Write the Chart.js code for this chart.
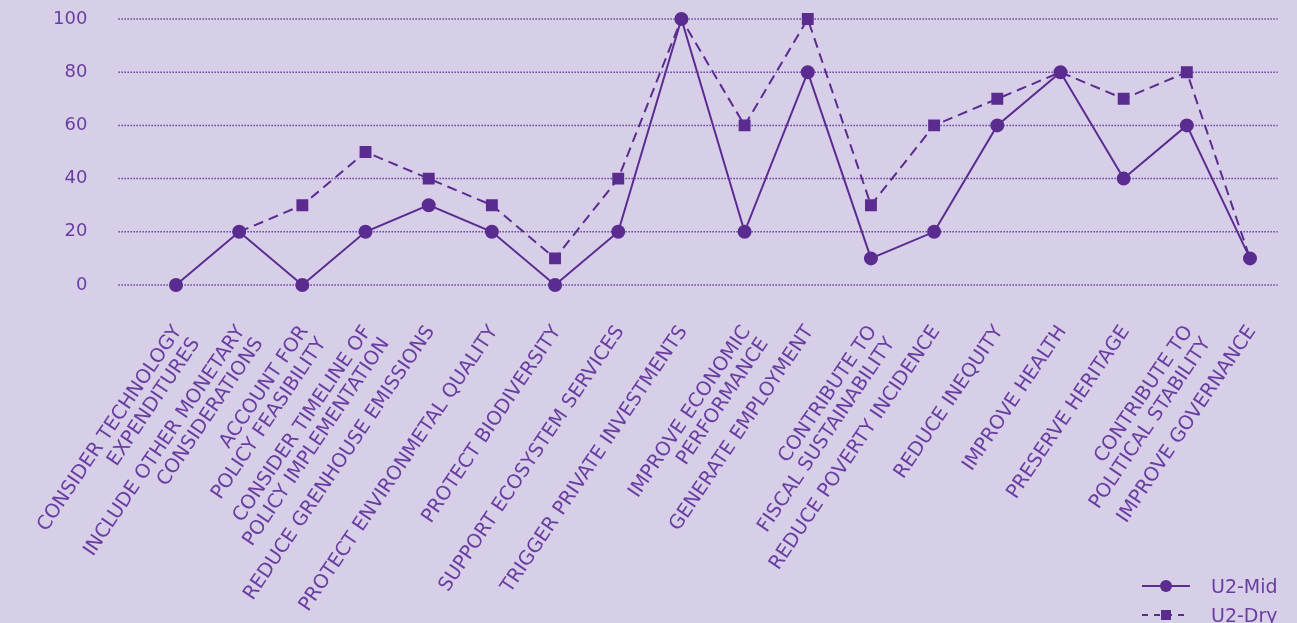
<!DOCTYPE html>
<html>
<head>
<meta charset="utf-8">
<script src="https://cdn.jsdelivr.net/npm/chart.js@4/dist/chart.umd.min.js"></script>
<style>
  html, body { margin: 0; padding: 0; background: #d7cee8; overflow: hidden; }
  #wrap { position: relative; width: 1297px; height: 623px; }
  .lg-text { position: absolute; font: 19px/19px "DejaVu Sans", sans-serif; color: #6a3ea1; white-space: nowrap; }
  .lg-line { position: absolute; height: 2px; background: #5b2c90; }
  .lg-dash { position: absolute; height: 2px;
    background: repeating-linear-gradient(to right, #5b2c90 0 6px, transparent 6px 12px); }
  .lg-dot { position: absolute; width: 12px; height: 12px; border-radius: 50%; background: #5b2c90; }
  .lg-sq { position: absolute; width: 10px; height: 10px; background: #5b2c90; }
</style>
</head>
<body>
<div id="wrap">
  <canvas id="chart"></canvas>
  <div class="lg-line" style="left:1142px; top:585px; width:48px;"></div>
  <div class="lg-dot" style="left:1160px; top:580px;"></div>
  <div class="lg-text" style="left:1211px; top:577px;">U2-Mid</div>
  <div class="lg-dash" style="left:1142px; top:614px; width:48px;"></div>
  <div class="lg-sq" style="left:1161px; top:610px;"></div>
  <div class="lg-text" style="left:1211px; top:606px;">U2-Dry</div>
</div>
<script>
const categories = [
  ['CONSIDER TECHNOLOGY', 'EXPENDITURES'],
  ['INCLUDE OTHER MONETARY', 'CONSIDERATIONS'],
  ['ACCOUNT FOR', 'POLICY FEASIBILITY'],
  ['CONSIDER TIMELINE OF', 'POLICY IMPLEMENTATION'],
  'REDUCE GRENHOUSE EMISSIONS',
  'PROTECT ENVIRONMETAL QUALITY',
  'PROTECT BIODIVERSITY',
  'SUPPORT ECOSYSTEM SERVICES',
  'TRIGGER PRIVATE INVESTMENTS',
  ['IMPROVE ECONOMIC', 'PERFORMANCE'],
  'GENERATE EMPLOYMENT',
  ['CONTRIBUTE TO', 'FISCAL SUSTAINABILITY'],
  'REDUCE POVERTY INCIDENCE',
  'REDUCE INEQUITY',
  'IMPROVE HEALTH',
  'PRESERVE HERITAGE',
  ['CONTRIBUTE TO', 'POLITICAL STABILITY'],
  'IMPROVE GOVERNANCE',
];
const u2Mid = [0, 20, 0, 20, 30, 20, 0, 20, 100, 20, 80, 10, 20, 60, 80, 40, 60, 10];
const u2Dry = [null, 20, 30, 50, 40, 30, 10, 40, 100, 60, 100, 30, 60, 70, 80, 70, 80, 10];
const yTicks = [0, 20, 40, 60, 80, 100];

const lineColor = '#5b2c90';
const textColor = '#6a3ea1';
const font = 'DejaVu Sans';

// dotted horizontal guides, wider than the plot area like the original
const dottedGrid = {
  id: 'dottedGrid',
  beforeDatasetsDraw(chart) {
    const { ctx, chartArea, scales: { y } } = chart;
    ctx.save();
    ctx.strokeStyle = '#6a3ea1';
    ctx.lineWidth = 1.5;
    ctx.setLineDash([1.5, 1.5]);
    yTicks.forEach((v) => {
      const py = y.getPixelForValue(v);
      ctx.beginPath();
      ctx.moveTo(chartArea.left - 26, py);
      ctx.lineTo(chartArea.right - 4, py);
      ctx.stroke();
    });
    ctx.restore();
  },
};

// squares sit under the circles where both series agree
const dryRadius = (c) => (u2Dry[c.dataIndex] === u2Mid[c.dataIndex] ? 0 : 7);

new Chart(document.getElementById('chart'), {
  type: 'line',
  data: {
    labels: categories,
    datasets: [
      {
        label: 'U2-Mid',
        data: u2Mid,
        borderColor: lineColor,
        backgroundColor: lineColor,
        borderWidth: 2,
        pointStyle: 'circle',
        pointRadius: 6,
        pointHoverRadius: 6,
        tension: 0,
        clip: false,
      },
      {
        label: 'U2-Dry',
        data: u2Dry,
        borderColor: lineColor,
        backgroundColor: lineColor,
        borderWidth: 2,
        borderDash: [10, 6],
        pointStyle: 'rect',
        pointRadius: dryRadius,
        pointHoverRadius: dryRadius,
        tension: 0,
        clip: false,
      },
    ],
  },
  options: {
    responsive: true,
    maintainAspectRatio: false,
    animation: false,
    layout: { autoPadding: false, padding: { top: 19, right: 15.4, left: 0, bottom: 0 } },
    plugins: { legend: { display: false }, tooltip: { enabled: false } },
    scales: {
      x: {
        offset: true,
        grid: { display: false },
        border: { display: false },
        ticks: {
          color: textColor,
          font: { family: font, size: 19.5, lineHeight: 1.11 },
          minRotation: 56,
          maxRotation: 56,
          autoSkip: false,
          padding: 29,
          labelOffset: 2,
        },
        afterFit(scale) {
          scale.height = 338;
          scale.paddingLeft = 0;
          scale.paddingRight = 0;
        },
      },
      y: {
        min: 0,
        max: 100,
        grid: { display: false },
        border: { display: false },
        ticks: {
          stepSize: 20,
          color: textColor,
          font: { family: font, size: 18 },
          padding: 49,
        },
        afterFit(scale) {
          scale.width = 144.4;
          scale.paddingTop = 0;
          scale.paddingBottom = 0;
        },
      },
    },
  },
  plugins: [dottedGrid],
});
</script>
</body>
</html>
